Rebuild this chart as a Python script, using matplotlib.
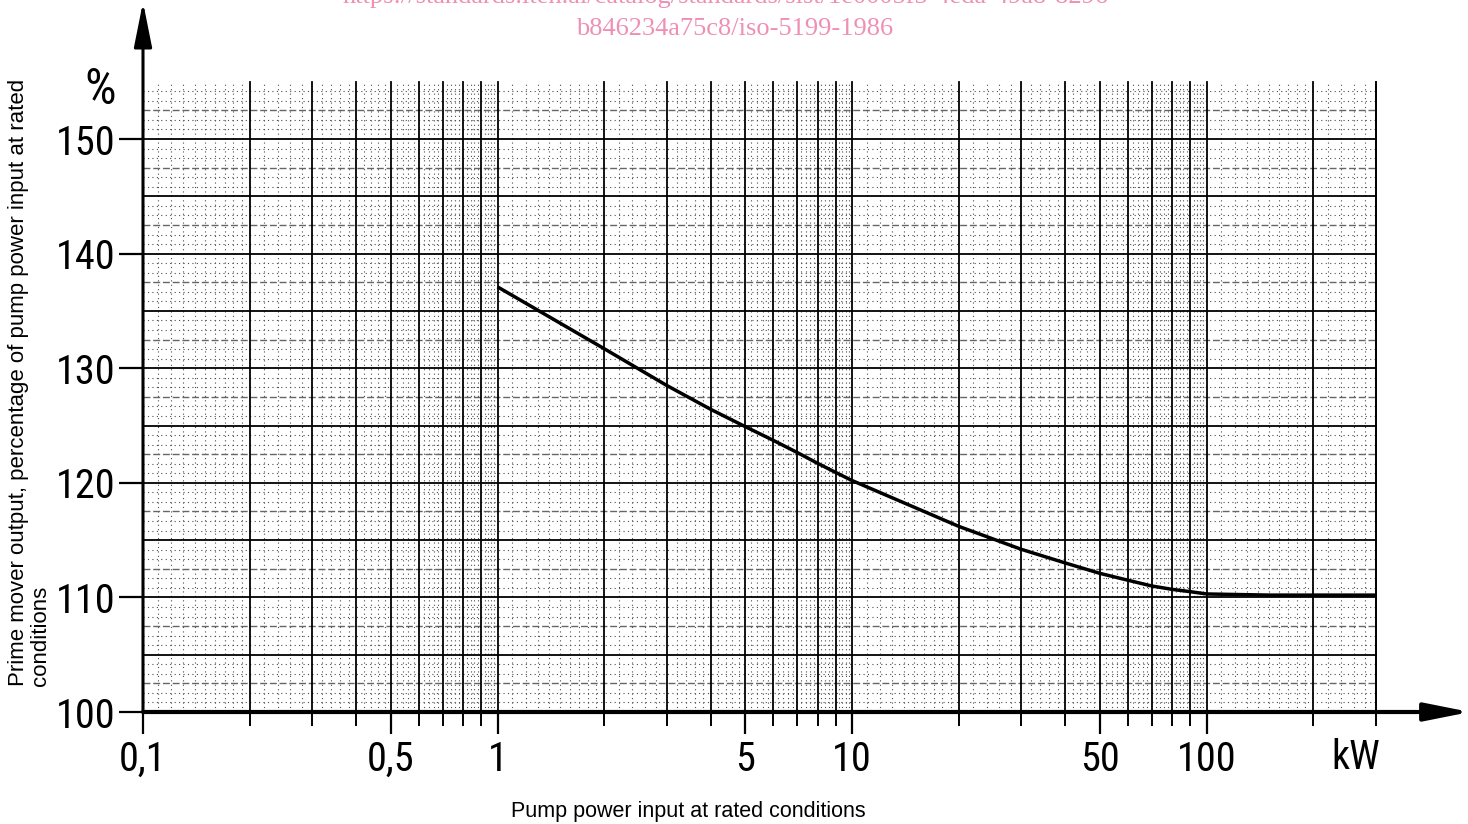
import matplotlib
matplotlib.use('Agg')
import matplotlib.pyplot as plt
from matplotlib import font_manager as fm
import numpy as np

# curve
power_kw = [1, 2, 3, 4, 5, 6, 7, 8, 9, 10, 20, 30, 40, 50, 60, 70, 80, 90, 100, 150, 300]
output_pct = [137.1, 131.7, 128.5, 126.4, 124.9, 123.7, 122.65, 121.7, 120.9, 120.2,
              116.2, 114.2, 113.0, 112.1, 111.5, 111.0, 110.7, 110.5, 110.3, 110.2, 110.2]

x_major = [0.1, 0.5, 1, 5, 10, 50, 100]
x_major_labels = ['0,1', '0,5', '1', '5', '10', '50', '100']
y_ticks = [100, 110, 120, 130, 140, 150]


def narrow_font():
    # the drawing uses tall narrow lettering, look for a condensed face
    fonts = fm.fontManager.ttflist
    names = {f.name for f in fonts}
    for p in ['Liberation Sans Narrow', 'Roboto Condensed', 'Noto Sans Condensed',
              'Open Sans Condensed', 'DejaVu Sans Condensed', 'Arial Narrow']:
        if p in names:
            return {'family': [p, 'DejaVu Sans']}, 1.0
    for f in fonts:
        if f.stretch in ('condensed', 'semi-condensed') and f.style == 'normal' \
                and f.weight in (400, 'normal', 'regular'):
            return {'family': [f.name, 'DejaVu Sans'], 'stretch': f.stretch}, 1.0
    return {'family': ['Liberation Sans', 'DejaVu Sans']}, 0.92


narrow, scale = narrow_font()
sans = ['Liberation Sans', 'DejaVu Sans']

fig = plt.figure(figsize=(14.68, 8.24), dpi=100)
ax = fig.add_axes([143 / 1468, 112 / 824, (1460 - 143) / 1468, (712 - 10) / 824])
ax.set_xscale('log')
ax.set_xlim(0.1, 10 ** (-1 + (1460 - 143) / 354.5))
ax.set_ylim(100, 100 + 702 / 11.46)
for s in ax.spines.values():
    s.set_visible(False)

# graph paper grid
x_end, y_top = 300, 155
solid_x, dot_x = [], []
for d in [0.1, 1, 10, 100]:
    solid_x += [k * d for k in range(2, 10)] + [d]
    dot_x += list(np.arange(1.1, 1.95, 0.1) * d) + [v * d for v in np.arange(2.2, 9.95, 0.2)
                                                     if abs(v - round(v)) > 0.01]
solid_x = [v for v in solid_x if v <= x_end + 1] + [x_end]
dot_x = [v for v in dot_x if v < x_end]

for v in dot_x:
    ax.plot([v, v], [100, y_top], color='0.3', lw=0.8, ls=(0, (1, 3)), zorder=1)
for v in solid_x:
    ax.plot([v, v], [100, y_top], color='black', lw=1.3, zorder=2)

for h in np.arange(100, y_top + 0.01, 2.5 / 3):
    r = round(h / 2.5, 3)
    if abs(r - round(r)) < 0.01:
        continue
    ax.plot([0.1, x_end], [h, h], color='0.3', lw=0.8, ls=(0, (1, 3)), zorder=1)
for h in np.arange(102.5, 153, 5):
    ax.plot([0.1, x_end], [h, h], color='0.4', lw=1.0, ls=(0, (5, 2)), zorder=1)
for h in np.arange(105, 151, 5):
    ax.plot([0.1, x_end], [h, h], color='black', lw=1.3, zorder=2)

# the curve
ax.plot(power_kw, output_pct, color='black', lw=2.5, zorder=4, solid_capstyle='butt')

# axes with arrows
arrow = dict(arrowstyle='-|>,head_length=1.1,head_width=0.22', color='black',
             shrinkA=0, shrinkB=0, mutation_scale=25)
ax.annotate('', xy=(1 + 10 / 1317, 0), xytext=(0, 0), xycoords='axes fraction',
            arrowprops=dict(arrow, lw=3.0), zorder=5, annotation_clip=False)
ax.annotate('', xy=(0, 1 + 8 / 702), xytext=(0, 0), xycoords='axes fraction',
            arrowprops=dict(arrow, lw=2.2), zorder=5, annotation_clip=False)

# ticks
fs = 29 * scale
ax.set_yticks(y_ticks)
ax.set_yticklabels([str(t) for t in y_ticks], fontsize=fs, **narrow)
ax.tick_params(axis='y', which='major', direction='out', length=17, width=1.6, pad=3)
ax.set_xticks(x_major)
ax.set_xticklabels(x_major_labels, fontsize=fs, **narrow)
minor = [k * d for d in [0.1, 1, 10] for k in [2, 3, 4, 6, 7, 8, 9]] + [200, 300]
ax.set_xticks(minor, minor=True)
ax.set_xticklabels([''] * len(minor), minor=True)
ax.tick_params(axis='x', which='major', direction='out', length=16, width=1.6, pad=4)
ax.tick_params(axis='x', which='minor', direction='out', length=10, width=1.4)
ax.tick_params(axis='y', which='minor', length=0)

ax.annotate('kW', xy=(300, 100), xytext=(3, -19), textcoords='offset points',
            ha='right', va='top', fontsize=fs, annotation_clip=False, **narrow)
ax.text(100 / 1468, 1 - 90 / 824, '%', transform=fig.transFigure, ha='center', va='center',
        fontsize=36 * scale, **narrow)

fig.text(29.5 / 1468, 1 - 686 / 824,
         'Prime mover output, percentage of pump power input at rated\nconditions',
         rotation=90, ha='center', va='bottom', multialignment='left',
         family=sans, fontsize=16, linespacing=1.12)
fig.text(688 / 1468, 1 - 812 / 824, 'Pump power input at rated conditions',
         ha='center', va='center', family=sans, fontsize=15.5)

# watermark
pink = '#ef8fb3'
serif = ['Liberation Serif', 'DejaVu Serif']
fig.text(730 / 1468, 1 - 3 / 824,
         'https://standards.iteh.ai/catalog/standards/sist/1e0005f5-4eda-49a8-8296-',
         ha='center', va='baseline', color=pink, family=serif, fontsize=19)
fig.text(735 / 1468, 1 - 35 / 824, 'b846234a75c8/iso-5199-1986',
         ha='center', va='baseline', color=pink, family=serif, fontsize=19)

fig.savefig('out.png', dpi=100)
